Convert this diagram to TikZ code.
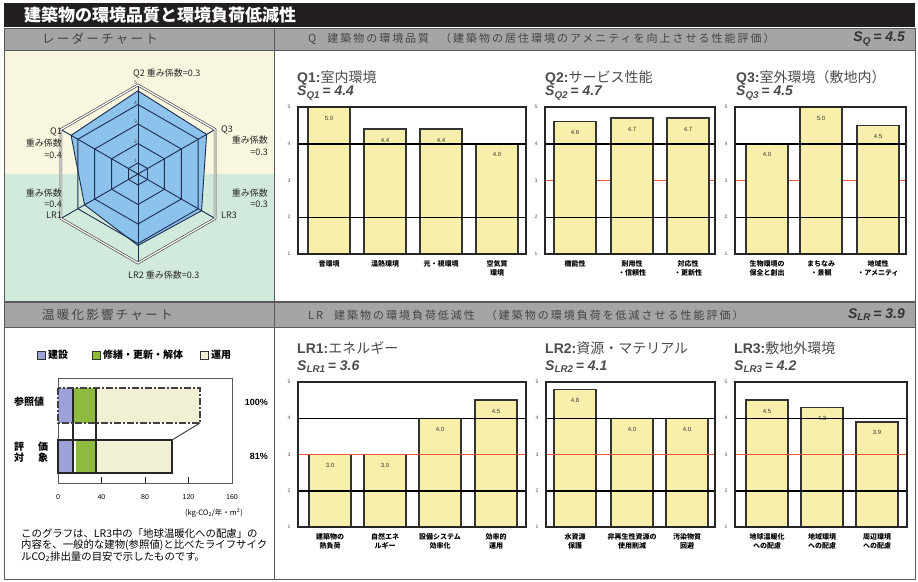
\documentclass[tikz,border=0pt]{standalone}
\usepackage{fontspec}
\setmainfont{Noto Sans CJK JP}
\newfontfamily\arial{Liberation Sans}
\newfontfamily\jpwide{Noto Sans CJK JP}[LetterSpace=18]
\usetikzlibrary{calc}

\definecolor{titlebar}{RGB}{35,31,32}
\definecolor{headgray}{RGB}{165,165,165}
\definecolor{headink}{RGB}{68,68,68}
\definecolor{radaryellow}{RGB}{248,246,222}
\definecolor{radargreen}{RGB}{210,234,220}
\definecolor{radarblue}{RGB}{140,194,236}
\definecolor{radarline}{RGB}{28,45,80}
\definecolor{baryellow}{RGB}{248,240,170}
\definecolor{limitred}{RGB}{238,84,62}
\definecolor{buildblue}{RGB}{156,162,216}
\definecolor{repairgreen}{RGB}{142,186,62}
\definecolor{usecream}{RGB}{241,240,212}

\tikzset{
  panel/.style = {draw = black!65, line width = 0.8pt},
  headbar/.style = {fill = headgray, draw = black!65, line width = 0.8pt},
  headtext/.style = {anchor = west, inner sep = 0pt, text = headink, font = \jpwide\fontsize{11}{11}\selectfont},
  headscore/.style = {anchor = east, inner sep = 0pt, text = black!80, font = \arial\bfseries\itshape\fontsize{14}{14}\selectfont},
  charttitle/.style = {anchor = west, inner sep = 0pt, text = black!70, font = \fontsize{14}{14}\selectfont},
  score/.style = {anchor = west, inner sep = 0pt, text = black!70, font = \arial\bfseries\itshape\fontsize{14}{14}\selectfont},
  bar/.style = {fill = baryellow, draw = black!80, line width = 1.5pt},
  gridline/.style = {black, line width = 1.5pt},
  redline/.style = {limitred, line width = 0.9pt},
  tick/.style = {inner sep = 0pt, text = black!70, font = \arial\fontsize{5}{5}\selectfont},
  barval/.style = {inner sep = 0pt, text = black!80, font = \arial\fontsize{6}{6}\selectfont},
  cat/.style = {anchor = north, inner sep = 0pt, align = center, font = \bfseries\fontsize{7}{9}\selectfont},
  weight/.style = {inner sep = 0pt, text = black!85, font = \fontsize{9}{12}\selectfont},
  radargrid/.style = {radarline, line width = 0.9pt},
  legend/.style = {anchor = west, inner sep = 0pt, font = \bfseries\fontsize{10}{10}\selectfont},
  rowlabel/.style = {anchor = west, inner sep = 0pt, font = \bfseries\fontsize{10}{11}\selectfont},
  percent/.style = {anchor = east, inner sep = 0pt, font = \arial\bfseries\fontsize{9}{9}\selectfont},
}

% #1 name, #2 left, #3 right, #4 top, #5 bottom, #6 red line (0 none, 1 under, 2 over), #7 bars
\newcommand{\scorechart}[7]{
  \pgfmathsetmacro{\lvl}{(#5-#4)/4}
  \pgfmathsetmacro{\ylimit}{#5-2*\lvl}
  \draw [panel, fill = white] (#2, #4) rectangle (#3, #5);
  \ifnum#6=1 \draw [redline] (#2, \ylimit) -- (#3, \ylimit); \fi
  \foreach \cx/\val/\lab [count = \i] in {#7} {
    \pgfmathsetmacro{\ytop}{#5-(\val-1)*\lvl}
    \draw [bar] (\cx-21, #5) rectangle (\cx+21, \ytop);
    \node [barval] (#1-val\i) at (\cx, \ytop+11) {\val};
    \node [cat] (#1-cat\i) at (\cx, #5+6) {\lab};
  }
  \foreach \k in {1, 3}
    \draw [gridline] (#2, {#5-\k*\lvl}) -- (#3, {#5-\k*\lvl});
  \ifnum#6=2 \draw [redline] (#2, \ylimit) -- (#3, \ylimit); \fi
  \draw [panel, line width = 1.5pt, draw = black!85] (#2, #4) rectangle (#3, #5);
  \foreach \k in {1, ..., 5}
    \node [tick] (#1-tick\k) at (#2-9, {#5-(\k-1)*\lvl}) {\k};
}

\begin{document}
\begin{tikzpicture}[x = 1pt, y = -1pt]
  \useasboundingbox [fill = white] (0, 0) rectangle (918, 581);

  % title bar and headers
  \fill [titlebar] (4, 3) rectangle (915, 27);
  \node [anchor = west, inner sep = 0pt, text = white, font = \bfseries\fontsize{17}{17}\selectfont] (title) at (24, 15) {建築物の環境品質と環境負荷低減性};
  \draw [headbar] (4, 28) rectangle (274, 50);
  \draw [headbar] (274, 28) rectangle (915, 50);
  \node [headtext, font = \jpwide\fontsize{12.5}{12.5}\selectfont] (radar-head) at (42, 39) {レーダーチャート};
  \node [headtext] (q-head) at (308, 39) {Q\quad 建築物の環境品質\quad （建築物の居住環境のアメニティを向上させる性能評価）};
  \node [headscore] (sq) at (905, 39) {S\textsubscript{Q}\,= 4.5};

  \draw [headbar] (4, 302) rectangle (274, 327);
  \draw [headbar] (274, 302) rectangle (915, 327);
  \node [headtext, font = \jpwide\fontsize{12.5}{12.5}\selectfont] (warm-head) at (42, 315) {温暖化影響チャート};
  \node [headtext] (lr-head) at (308, 315) {LR\quad 建築物の環境負荷低減性\quad （建築物の環境負荷を低減させる性能評価）};
  \node [headscore] (slr) at (905, 315) {S\textsubscript{LR}\,= 3.9};

  % panels
  \fill [radaryellow] (4, 50) rectangle (274, 174);
  \fill [radargreen] (4, 174) rectangle (274, 301);
  \draw [panel] (4, 50) rectangle (274, 301);
  \draw [panel] (274, 50) rectangle (915, 301);
  \draw [panel] (4, 327) rectangle (274, 579);
  \draw [panel] (274, 327) rectangle (915, 579);

  % radar chart
  \coordinate (rc) at (138, 174);
  \foreach \a/\v/\n in {-90/4.7/q2, -30/4.5/q3, 30/4.2/lr3, 90/4.1/lr2, 150/3.6/lr1, 210/4.4/q1}
    \coordinate (s-\n) at ($(rc)+(\a:{11+19.5*(\v-1)})$);
  \filldraw [fill = radarblue, draw = radarline, line width = 0.9pt] (s-q2) -- (s-q3) -- (s-lr3) -- (s-lr2) -- (s-lr1) -- (s-q1) -- cycle;
  \foreach \v in {1, ..., 4} {
    \pgfmathsetmacro{\rr}{11+19.5*(\v-1)}
    \draw [radargrid] ($(rc)+(-90:\rr)$) \foreach \a in {-30, 30, 90, 150, 210} { -- ($(rc)+(\a:\rr)$) } -- cycle;
  }
  \foreach \a in {-90, -30, 30, 90, 150, 210}
    \draw [radargrid] (rc) -- ($(rc)+(\a:89)$);
  \draw [draw = black!70, line width = 0.7pt, double = white, double distance = 1.2pt] ($(rc)+(-90:89)$) \foreach \a in {-30, 30, 90, 150, 210} { -- ($(rc)+(\a:89)$) } -- cycle;
  \foreach \v in {1, ..., 5}
    \node [tick, anchor = south east] (r-tick\v) at ($(rc)+(-90:{11+19.5*(\v-1)})+(-1, 0)$) {\v};

  \node [weight, anchor = west] (w-q2) at (133, 74) {Q2\ 重み係数=0.3};
  \node [weight, anchor = east, align = right] (w-q1) at (62, 143) {Q1\\重み係数\\=0.4};
  \node [weight, anchor = west] (w-q3) at (221, 130) {Q3};
  \node [weight, anchor = north east, align = right] (w-q3b) at (268, 136) {重み係数\\=0.3};
  \node [weight, anchor = east, align = right, font = \fontsize{9}{11}\selectfont] (w-lr1) at (62, 204) {重み係数\\=0.4\\LR1};
  \node [weight, anchor = east, align = right, font = \fontsize{9}{11}\selectfont] (w-lr3) at (268, 198) {重み係数\\=0.3};
  \node [weight, anchor = west] (w-lr3b) at (221, 215) {LR3};
  \node [weight, anchor = west] (w-lr2) at (128, 275) {LR2\ 重み係数=0.3};

  % Q charts
  \node [charttitle] (q1-title) at (297, 78) {{\arial\bfseries Q1:}室内環境};
  \node [score] (q1-score) at (297, 93) {S\textsubscript{Q1}\,= 4.4};
  \node [charttitle] (q2-title) at (545, 78) {{\arial\bfseries Q2:}サービス性能};
  \node [score] (q2-score) at (545, 93) {S\textsubscript{Q2}\,= 4.7};
  \node [charttitle] (q3-title) at (736, 78) {{\arial\bfseries Q3:}室外環境（敷地内）};
  \node [score] (q3-score) at (736, 93) {S\textsubscript{Q3}\,= 4.5};
  \scorechart{q1}{298}{526}{107}{254}{0}{329/5.0/{音環境}, 385/4.4/{温熱環境}, 441/4.4/{光・視環境}, 497/4.0/{空気質\\環境}}
  \scorechart{q2}{545}{715}{107}{254}{1}{575/4.6/{機能性}, 632/4.7/{耐用性\\・信頼性}, 688/4.7/{対応性\\・更新性}}
  \scorechart{q3}{735}{906}{107}{254}{1}{767/4.0/{生物環境の\\保全と創出}, 821/5.0/{まちなみ\\・景観}, 878/4.5/{地域性\\・アメニティ}}

  % LR charts
  \node [charttitle] (lr1-title) at (297, 348) {{\arial\bfseries LR1:}エネルギー};
  \node [score] (lr1-score) at (297, 367) {S\textsubscript{LR1}\,= 3.6};
  \node [charttitle] (lr2-title) at (545, 348) {{\arial\bfseries LR2:}資源・マテリアル};
  \node [score] (lr2-score) at (545, 367) {S\textsubscript{LR2}\,= 4.1};
  \node [charttitle] (lr3-title) at (734, 348) {{\arial\bfseries LR3:}敷地外環境};
  \node [score] (lr3-score) at (734, 367) {S\textsubscript{LR3}\,= 4.2};
  \scorechart{lr1}{298}{526}{382}{527}{2}{330/3.0/{建築物の\\熱負荷}, 385/3.0/{自然エネ\\ルギー}, 440/4.0/{設備システム\\効率化}, 496/4.5/{効率的\\運用}}
  \scorechart{lr2}{546}{715}{382}{527}{2}{575/4.8/{水資源\\保護}, 632/4.0/{非再生性資源の\\使用削減}, 687/4.0/{汚染物質\\回避}}
  \scorechart{lr3}{735}{907}{382}{527}{2}{767/4.5/{地球温暖化\\への配慮}, 822/4.3/{地域環境\\への配慮}, 877/3.9/{周辺環境\\への配慮}}

  % warming chart
  \foreach \x/\c/\t [count = \i] in {37/buildblue/建設, 92/repairgreen/修繕・更新・解体, 200/usecream/運用} {
    \draw [fill = \c, draw = black!80, line width = 0.6pt] (\x, 351) rectangle ++(8, 8);
    \node [legend] (leg\i) at (\x+11, 355) {\t};
  }
  \draw [panel, fill = white, line width = 1pt] (58, 378) rectangle (232, 483);
  \fill [buildblue] (58, 388) rectangle (73, 423);
  \fill [repairgreen] (73, 388) rectangle (96, 423);
  \fill [usecream] (96, 388) rectangle (200, 423);
  \fill [buildblue] (58, 440) rectangle (73, 473);
  \fill [repairgreen] (76, 440) rectangle (96, 473);
  \fill [usecream] (96, 440) rectangle (172, 473);
  \draw [black!85, line width = 1.2pt] (73, 388) -- (73, 473);
  \draw [black!85, line width = 1.2pt] (96, 388) -- (96, 473);
  \draw [black!85, line width = 1.2pt] (58, 440) rectangle (172, 473);
  \draw [black!75, line width = 1.6pt, dash pattern = on 7pt off 2pt on 2pt off 2pt] (58, 388) rectangle (200, 423);
  \draw [black!75, line width = 1pt] (200, 423) -- (172, 440);
  \foreach \t in {40, 80, 120}
    \draw [black!85, line width = 1pt] (58+\t*1.0875, 483) -- ++(0, -6);
  \foreach \t in {0, 40, 80, 120, 160}
    \node [inner sep = 0pt, font = \arial\fontsize{7}{7}\selectfont] (ax\t) at (58+\t*1.0875, 497) {\t};
  \node [anchor = east, inner sep = 0pt, font = \fontsize{7.5}{7.5}\selectfont] (unit) at (243, 513) {(kg-CO\textsubscript{2}/年・m\textsuperscript{2})};

  \node [rowlabel] (ref) at (14, 402) {参照値};
  \node [rowlabel, align = left] (eval) at (14, 452) {評\hspace{1.4em}価\\対\hspace{1.4em}象};
  \node [percent] (ref-pc) at (268, 402) {100\%};
  \node [percent] (eval-pc) at (268, 456) {81\%};

  \node [anchor = north west, inner sep = 0pt, align = left, font = \fontsize{10.4}{11.5}\selectfont] (note) at (21, 528) {このグラフは、LR3中の「地球温暖化への配慮」の\\内容を、一般的な建物(参照値)と比べたライフサイク\\ルCO\textsubscript{2}排出量の目安で示したものです。};
\end{tikzpicture}
\end{document}
